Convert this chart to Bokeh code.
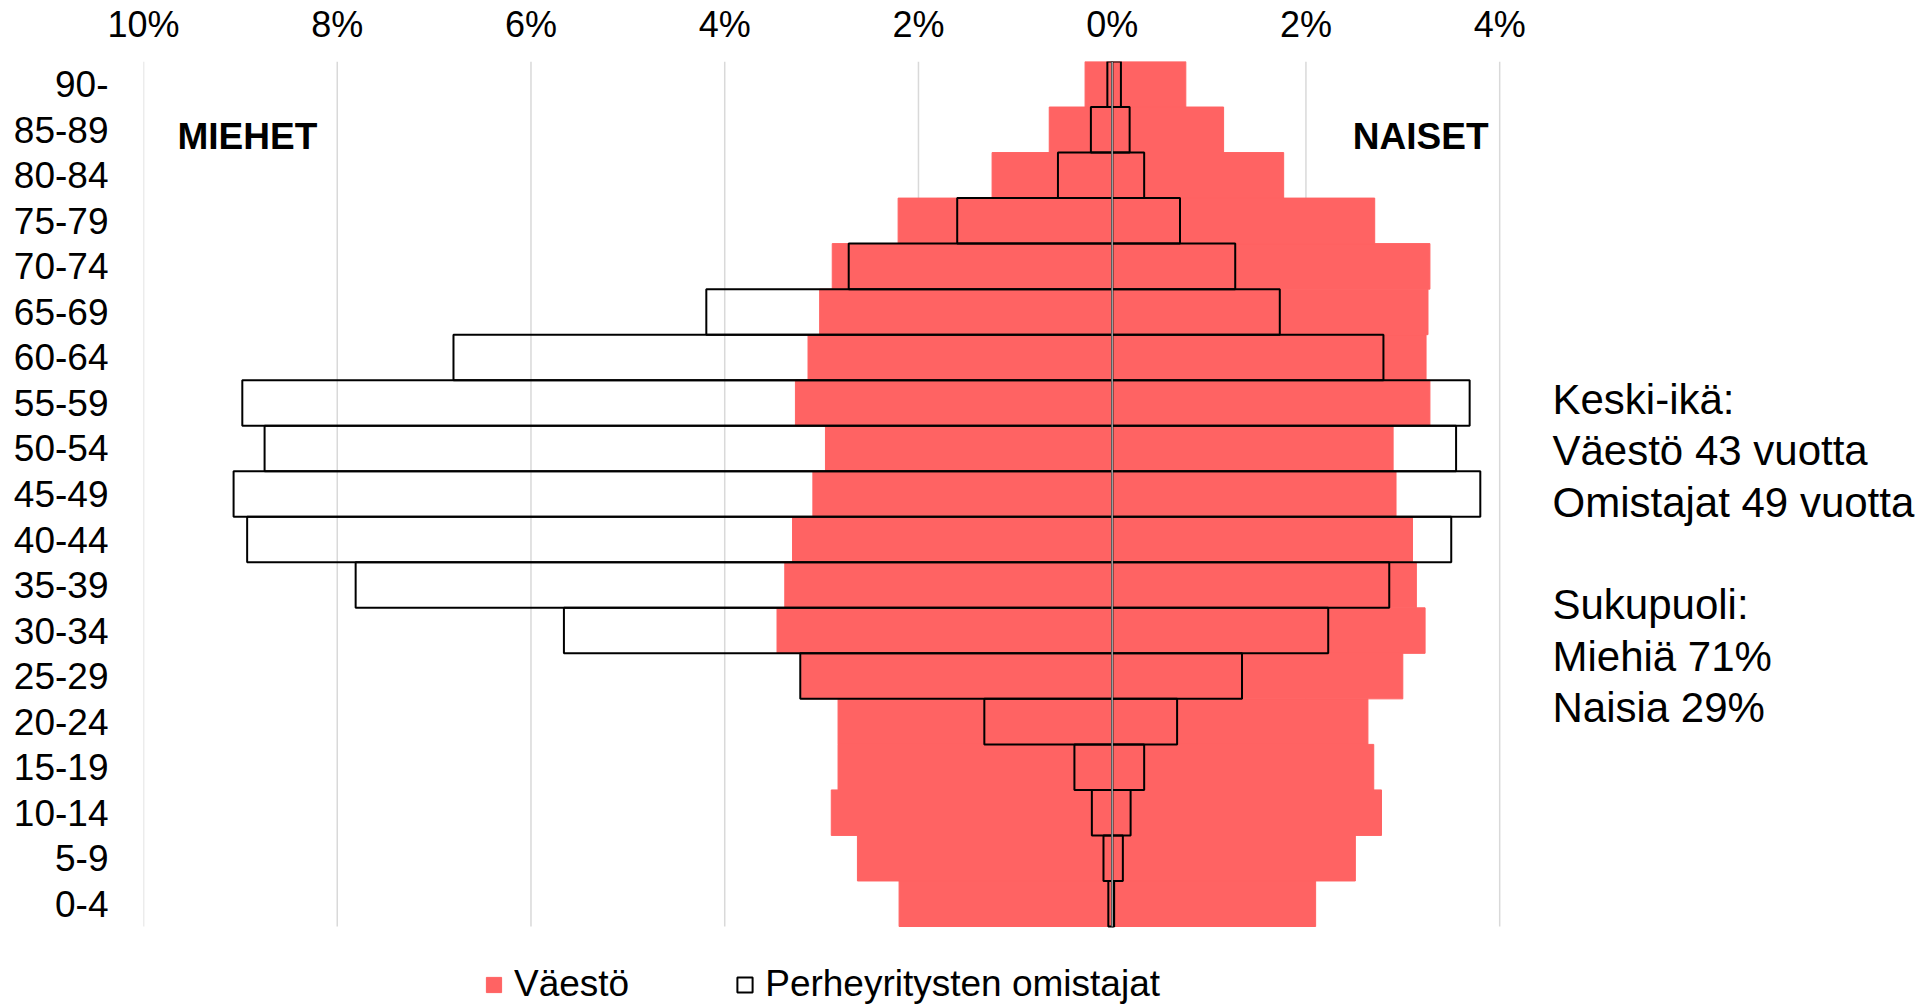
import numpy as np
from bokeh.plotting import figure
from bokeh.models import ColumnDataSource, Range1d, FixedTicker, Legend, LegendItem, Label
from bokeh.embed import file_html
from bokeh.resources import INLINE

# ---- data (percent of total), ordered from youngest to oldest ----
ages = ["0-4", "5-9", "10-14", "15-19", "20-24", "25-29", "30-34", "35-39", "40-44",
        "45-49", "50-54", "55-59", "60-64", "65-69", "70-74", "75-79", "80-84", "85-89", "90-"]
pop_men = [2.20, 2.63, 2.90, 2.83, 2.83, 3.21, 3.46, 3.38, 3.30, 3.09, 2.96, 3.27, 3.14, 3.02,
           2.89, 2.21, 1.24, 0.65, 0.28]
pop_women = [2.10, 2.51, 2.78, 2.70, 2.64, 3.00, 3.23, 3.14, 3.10, 2.93, 2.90, 3.28, 3.24, 3.26,
             3.28, 2.71, 1.77, 1.15, 0.76]
own_men = [0.04, 0.09, 0.21, 0.39, 1.32, 3.22, 5.66, 7.81, 8.93, 9.07, 8.75, 8.98, 6.80, 4.19,
           2.72, 1.60, 0.56, 0.22, 0.05]
own_women = [0.02, 0.11, 0.19, 0.33, 0.67, 1.34, 2.23, 2.86, 3.50, 3.80, 3.55, 3.69, 2.80, 1.73,
              1.27, 0.70, 0.33, 0.18, 0.09]

x_ticks = [-10, -8, -6, -4, -2, 0, 2, 4]
x_tick_labels = ["10%", "8%", "6%", "4%", "2%", "0%", "2%", "4%"]
grid_ticks = [-10, -8, -6, -4, -2, 2, 4]

series_names = ["Väestö", "Perheyritysten omistajat"]
side_labels = ["MIEHET", "NAISET"]
notes = ["Keski-ikä:", "Väestö 43 vuotta", "Omistajat 49 vuotta", "",
         "Sukupuoli:", "Miehiä 71%", "Naisia 29%"]

RED = "#FF6363"
FONT = "Liberation Sans"

W, H = 1920, 1004
LEFT, TOP = 143, 61          # frame position (px)
PX_PER_PCT = 96.87
ROW = 45.53
BAR_BOTTOM = 926

n = len(ages)
yy = np.arange(n)
src = ColumnDataSource(dict(
    y=yy,
    pm=-np.array(pop_men), pw=np.array(pop_women),
    om=-np.array(own_men), ow=np.array(own_women),
))

p = figure(width=W, height=H,
           x_range=Range1d(-10, -10 + (W - LEFT) / PX_PER_PCT),
           y_range=Range1d(-0.5 - (H - BAR_BOTTOM) / ROW, n - 0.5),
           x_axis_location="above",
           output_backend="svg", toolbar_location=None,
           min_border_left=LEFT, min_border_top=TOP, min_border_right=0, min_border_bottom=0)
p.outline_line_color = None
p.xgrid.visible = False
p.ygrid.visible = False
p.background_fill_color = "white"

# grid lines limited to the bar area
gsrc = ColumnDataSource(dict(x=grid_ticks, y0=[-0.5] * len(grid_ticks), y1=[n - 0.5] * len(grid_ticks)))
p.segment(x0="x", x1="x", y0="y0", y1="y1", source=gsrc, line_color="#D9D9D9", line_width=1.5)

r_pop = p.hbar(y="y", left="pm", right=0, height=1, source=src,
               fill_color=RED, line_color=RED, line_width=1)
p.hbar(y="y", left=0, right="pw", height=1, source=src,
       fill_color=RED, line_color=RED, line_width=1)
r_own = p.hbar(y="y", left="om", right=0, height=1, source=src,
               fill_color="white", fill_alpha=0, line_color="black", line_width=2)
p.hbar(y="y", left=0, right="ow", height=1, source=src,
       fill_color="white", fill_alpha=0, line_color="black", line_width=2)

csrc = ColumnDataSource(dict(x=[0], y0=[-0.5], y1=[n - 0.5]))
p.segment(x0="x", x1="x", y0="y0", y1="y1", source=csrc, line_color="#A6A6A6", line_width=1.5)

# axes
xa = p.xaxis[0]
xa.ticker = FixedTicker(ticks=x_ticks)
xa.major_label_overrides = {t: l for t, l in zip(x_ticks, x_tick_labels)}
ya = p.yaxis[0]
ya.ticker = FixedTicker(ticks=list(range(n)))
ya.major_label_overrides = {i: a for i, a in enumerate(ages)}
for ax in (xa, ya):
    ax.axis_line_color = None
    ax.major_tick_line_color = None
    ax.minor_tick_line_color = None
    ax.major_label_text_font = FONT
    ax.major_label_text_color = "black"
xa.major_label_text_font_size = "36px"
ya.major_label_text_font_size = "37px"
xa.major_label_standoff = 11
ya.major_label_standoff = 29

# side labels
p.add_layout(Label(x=-9.649, y=16.85, text=side_labels[0], text_font=FONT, text_font_size="37px",
                   text_font_style="bold", text_color="black",
                   text_align="left", text_baseline="alphabetic"))
p.add_layout(Label(x=3.885, y=16.85, text=side_labels[1], text_font=FONT, text_font_size="37px",
                   text_font_style="bold", text_color="black",
                   text_align="right", text_baseline="alphabetic"))

# notes on the right
for k, t in enumerate(notes):
    if t:
        p.add_layout(Label(x=4.545, y=11.08 - k * 1.129, text=t, text_font=FONT,
                           text_font_size="42px", text_color="black",
                           text_align="left", text_baseline="alphabetic"))

legend = Legend(items=[LegendItem(label=series_names[0], renderers=[r_pop]),
                       LegendItem(label=series_names[1], renderers=[r_own])],
                location=(341, -1), orientation="horizontal", padding=0, margin=0,
                spacing=106, glyph_width=19, glyph_height=19, label_standoff=11,
                label_text_font_size="37px", label_text_font=FONT, label_text_color="black",
                border_line_color=None, background_fill_alpha=0)
p.add_layout(legend)

open("out.html", "w").write(file_html(p, INLINE))
